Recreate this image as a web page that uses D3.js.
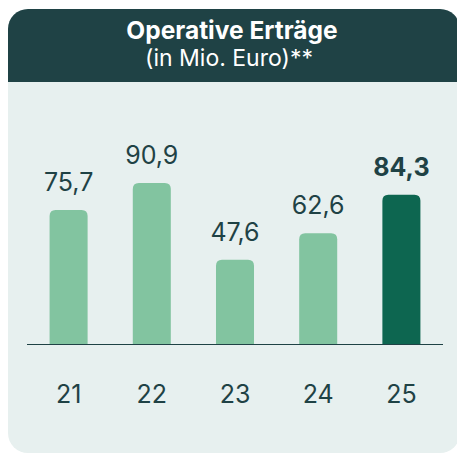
<!DOCTYPE html>
<html><head><meta charset="utf-8">
<script src="https://cdn.jsdelivr.net/npm/d3@7"></script>
<style>html,body{margin:0;padding:0;background:#fff;}svg{display:block;}</style>
</head><body>
<script>
const categories = ["21","22","23","24","25"];
const values = [75.7, 90.9, 47.6, 62.6, 84.3];
const valueLabels = ["75,7","90,9","47,6","62,6","84,3"];
const highlight = [false,false,false,false,true];
const title = "Operative Erträge";
const subtitle = "(in Mio. Euro)**";

const W = 457, H = 455;
const font = "Inter, Lato, sans-serif";
const dark = "#1f4245";
const svg = d3.select("body").append("svg").attr("width", W).attr("height", H);

// card
const cx = 8, cy = 9, cw = 452, ch = 444, r = 20, headH = 73;
svg.append("rect").attr("x", cx).attr("y", cy).attr("width", cw).attr("height", ch).attr("rx", r).attr("fill", "#e7f0ef");
svg.append("path").attr("fill", "#1f4245")
  .attr("d", `M${cx},${cy+headH} V${cy+r} A${r},${r} 0 0 1 ${cx+r},${cy} H${cx+cw-r} A${r},${r} 0 0 1 ${cx+cw},${cy+r} V${cy+headH} Z`);

svg.append("text").attr("x", 232).attr("y", 39).attr("text-anchor", "middle")
  .attr("font-family", font).attr("font-weight", 700).attr("font-size", 24.5).attr("fill", "#fff").text(title);
svg.append("text").attr("x", 229).attr("y", 66).attr("text-anchor", "middle")
  .attr("font-family", font).attr("font-weight", 400).attr("font-size", 23).attr("fill", "#fff").text(subtitle);

const base = 344;
const x = d3.scaleBand().domain(categories).range([27, 443]).paddingInner(0.543).paddingOuter(0.2715);
const y = d3.scaleLinear().domain([0, 100]).range([base, base - 177.1]);

const data = categories.map((c, i) => ({c, v: values[i], l: valueLabels[i], h: highlight[i]}));
const br = 6;
svg.selectAll("path.bar").data(data).enter().append("path").attr("class", "bar")
  .attr("fill", d => d.h ? "#0d6650" : "#82c4a0")
  .attr("d", d => {
    const x0 = x(d.c), x1 = x0 + x.bandwidth(), t = y(d.v), b = y(0);
    return `M${x0},${b} V${t+br} Q${x0},${t} ${x0+br},${t} H${x1-br} Q${x1},${t} ${x1},${t+br} V${b} Z`;
  });

svg.append("line").attr("x1", 27).attr("x2", 443).attr("y1", base + 0.5).attr("y2", base + 0.5)
  .attr("stroke", dark).attr("stroke-width", 1.2);

svg.selectAll("text.val").data(data).enter().append("text").attr("class", "val")
  .attr("x", d => x(d.c) + x.bandwidth() / 2).attr("y", d => y(d.v) - 19)
  .attr("text-anchor", "middle").attr("font-family", font).attr("font-size", 25)
  .attr("font-weight", d => d.h ? 700 : 400).attr("fill", dark).text(d => d.l);

const xAxis = d3.axisBottom(x).tickSize(0).tickPadding(0);
const g = svg.append("g").attr("transform", `translate(0,${base})`).call(xAxis);
g.select(".domain").remove();
g.selectAll("text").attr("dy", 0).attr("y", 59).attr("font-family", font).attr("font-size", 25).attr("fill", dark);
</script>
</body></html>
